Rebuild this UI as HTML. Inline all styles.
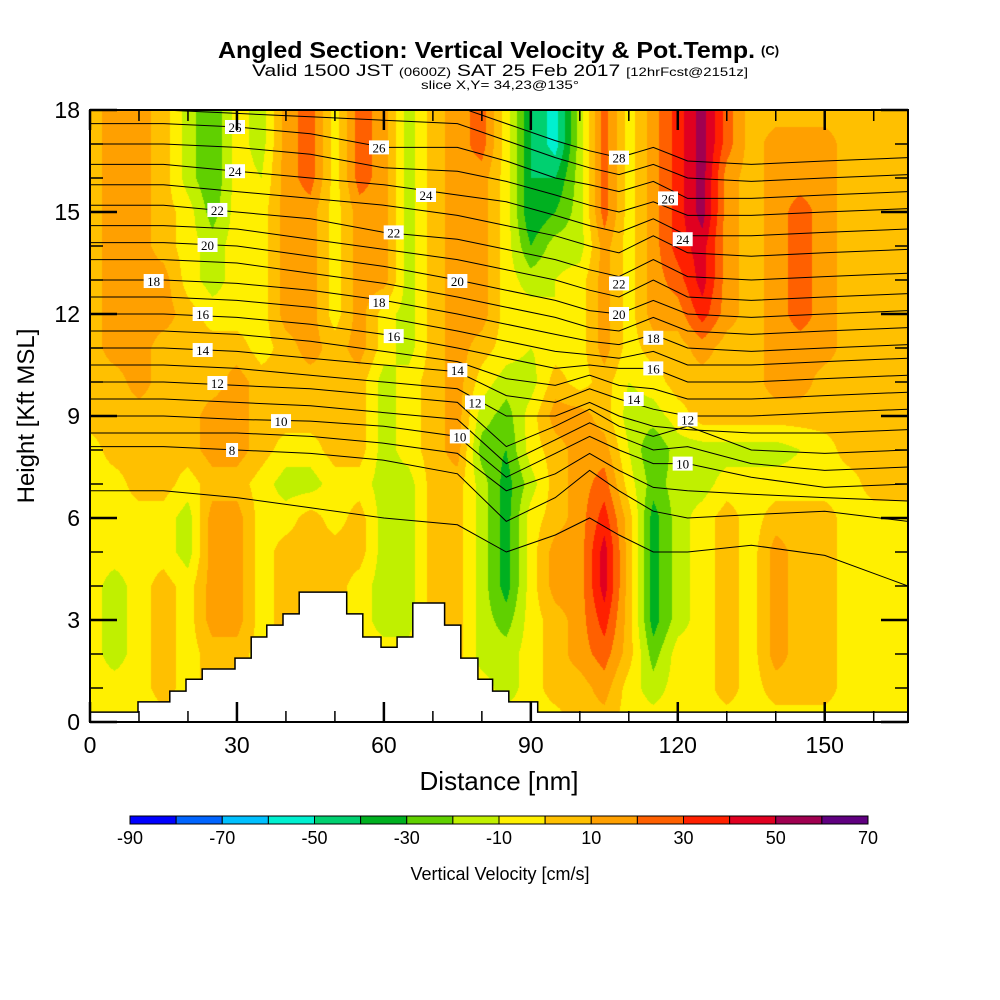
<!DOCTYPE html>
<html><head><meta charset="utf-8">
<style>
html,body{margin:0;padding:0;background:#fff;}
#wrap{position:relative;width:1000px;height:1000px;overflow:hidden;font-family:"Liberation Sans",sans-serif;}
canvas{position:absolute;left:90px;top:110px;}
svg{position:absolute;left:0;top:0;}
</style></head>
<body>
<div id="wrap">
<canvas id="field" width="818" height="612"></canvas>
<svg id="svg" width="1000" height="1000">
  <g>
    <text x="218" y="58" font-size="23" font-weight="bold" textLength="537" lengthAdjust="spacingAndGlyphs">Angled Section: Vertical Velocity &amp; Pot.Temp.</text>
    <text x="761" y="55" font-size="13" font-weight="bold">(C)</text>
    <text x="252" y="76" font-size="17" textLength="496" lengthAdjust="spacingAndGlyphs">Valid 1500 JST <tspan font-size="12">(0600Z)</tspan> SAT 25 Feb 2017 <tspan font-size="12">[12hrFcst@2151z]</tspan></text>
    <text x="421" y="89" font-size="12" textLength="158" lengthAdjust="spacingAndGlyphs">slice X,Y= 34,23@135°</text>
  </g>
  <g id="theta"></g>
  <g id="terrain"></g>
  <g id="labels"></g>
  <g id="axes"></g>
  <g id="cbar"></g>
</svg>
</div>
<script>
// ---- data ----
const distances = [0,5,10,15,20,25,30,35,40,45,50,55,60,65,70,75,80,85,90,95,100,105,110,115,120,125,130,135,140,145,150,155,160,165];
const heights = [18,17,16,15,14,13,12,11,10,9,8,7,6,5,4,3,2,1,0];
// each entry: vertical profile (18 kft -> 0 kft) of vertical velocity [cm/s] at one distance
const vvCols = [
[5,5,5,5,5,5,5,5,5,5,-5,-5,-5,-5,-5,-5,-5,-5,-5],
[15,15,15,15,15,15,15,15,5,5,5,-5,-5,-5,-15,-15,-15,-5,-5],
[15,15,15,15,15,15,15,15,15,5,5,5,-5,-5,-5,-5,-5,-5,-5],
[5,5,5,5,5,15,15,5,5,5,5,5,-5,-5,5,5,5,5,-5],
[-15,-15,-15,-5,-5,-5,5,5,5,5,5,-5,-15,-15,-5,-5,-5,-5,-5],
[-30,-30,-30,-25,-15,-15,-5,5,5,15,15,5,15,15,15,15,5,5,-5],
[-5,-5,-5,-5,-5,-5,-5,5,15,15,15,5,15,15,15,15,5,5,-5],
[-15,-15,-10,-5,-5,-5,-5,-5,5,5,5,-5,-5,-5,-5,-5,-5,-5,-5],
[15,15,15,15,15,15,15,5,5,5,-5,-15,-5,5,5,5,5,-5,-5],
[25,25,25,15,15,15,15,15,5,5,-5,-15,5,5,5,5,5,-5,-5],
[-5,-5,-5,-5,-5,-5,-5,5,5,5,5,-5,-5,5,5,5,-5,-5,-5],
[25,25,25,15,15,15,15,15,5,5,5,-5,5,5,-5,-5,-5,-5,-5],
[15,15,15,15,15,15,-5,-5,-15,-15,-15,-15,-15,-15,-15,-15,-5,-5,-5],
[-15,-15,-15,-15,-15,-15,-15,-15,-5,-5,-5,-15,-15,-15,-15,-15,-5,-5,-5],
[5,5,5,5,5,5,5,5,5,5,5,5,5,5,5,5,5,-5,-5],
[15,15,15,15,15,15,15,15,15,15,15,5,5,5,5,5,5,-5,-5],
[25,25,15,15,15,15,15,5,-5,-15,-25,-15,-15,-15,-15,-15,-15,-5,-5],
[-5,-5,-5,-5,-5,-5,-5,-5,-15,-25,-30,-35,-35,-35,-35,-25,-15,-15,-5],
[-40,-40,-40,-40,-30,-15,-5,-10,-15,-5,-5,-15,-5,-5,-5,-5,-5,-5,-5],
[-55,-55,-40,-30,-15,-10,-10,-5,5,15,5,5,5,15,15,5,5,5,-5],
[-15,-15,-15,-15,-15,-5,-5,-5,-5,15,15,15,15,15,15,15,15,5,5],
[25,25,25,25,15,15,15,15,5,5,15,25,35,45,45,35,25,15,5],
[-5,-5,-5,-5,-5,-5,-5,-5,-10,-15,-10,-5,5,5,5,5,5,-5,-5],
[15,15,15,15,15,15,15,5,-5,-15,-30,-25,-35,-35,-35,-35,-25,-15,-5],
[35,35,35,35,35,25,15,5,5,-5,-15,-15,-15,-15,-15,-15,-5,-5,-5],
[55,55,55,55,45,45,35,15,5,5,-15,-15,-5,-5,-5,-5,-5,-5,-5],
[25,25,15,15,15,15,15,5,5,5,-15,-5,5,5,5,5,5,5,-5],
[5,5,5,5,5,5,5,5,5,5,-15,-5,-5,-5,-5,-5,-5,-5,-5],
[5,15,15,15,15,15,15,15,15,5,-15,-5,5,15,15,15,15,5,-5],
[5,15,15,25,25,25,25,15,15,5,-10,-5,5,5,5,5,5,5,-5],
[5,15,15,15,15,15,15,15,5,5,-5,-5,5,5,5,5,5,5,-5],
[5,5,5,5,5,5,5,5,5,5,5,-5,-5,-5,-5,-5,-5,-5,-5],
[5,5,5,5,5,5,5,5,5,5,5,5,-5,-5,-5,-5,-5,-5,-5],
[5,5,5,5,5,5,5,5,5,5,5,5,-5,-5,-5,-5,-5,-5,-5]
];
const colorLevels = [-90,-80,-70,-60,-50,-40,-30,-20,-10,0,10,20,30,40,50,60,70];
const colorFills = ["#0000ff","#0064ff","#00c0ff","#00f0d0","#00d070","#00b020","#60d000","#c0f000","#fff000","#ffc000","#ffa000","#ff6000","#ff2000","#e00020","#a00050","#600080"];
const colorTickLabels = ["-90","-70","-50","-30","-10","10","30","50","70"];
const xTicks = [0,30,60,90,120,150];
const yTicks = [0,3,6,9,12,15,18];
const thetaCtrlNm = [0,15,30,45,60,75,85,95,102,108,115,122,135,150,167];
const thetaLevels = [7,8,9,10,11,12,13,14,15,16,17,18,19,20,21,22,23,24,25,26,27,28];
const thetaHeights = [
[6.8,6.8,6.6,6.3,6.0,5.8,5.0,5.5,6.0,5.5,5.0,5.0,5.2,4.9,4.0],
[8.1,8.1,8.0,7.9,7.7,7.3,5.9,6.6,7.4,6.8,6.2,6.0,6.1,6.2,5.9],
[8.5,8.5,8.5,8.4,8.2,7.9,6.8,7.3,7.9,7.4,6.9,6.8,6.7,6.6,6.5],
[9.0,9.0,8.9,8.85,8.7,8.4,7.2,7.9,8.4,8.0,7.6,7.6,7.2,6.9,7.0],
[9.5,9.5,9.4,9.3,9.1,8.9,7.6,8.3,8.8,8.4,8.0,8.1,7.6,7.4,7.5],
[10.0,10.0,9.9,9.8,9.6,9.4,8.1,8.7,9.2,8.7,8.4,8.7,8.0,7.9,8.0],
[10.5,10.5,10.4,10.2,10.0,9.8,9.0,9.0,9.4,9.0,8.7,8.6,8.5,8.5,8.6],
[11.0,11.0,10.9,10.7,10.5,10.3,9.6,9.4,9.8,9.5,9.2,9.0,9.0,9.1,9.2],
[11.5,11.5,11.4,11.2,10.9,10.6,10.1,9.9,10.2,9.9,9.8,9.5,9.5,9.6,9.7],
[12.0,12.0,11.9,11.7,11.4,11.0,10.7,10.4,10.5,10.4,10.4,10.0,10.0,10.1,10.2],
[12.5,12.5,12.4,12.2,11.9,11.5,11.2,10.9,10.8,10.7,10.9,10.5,10.5,10.6,10.7],
[13.0,13.0,12.9,12.7,12.4,12.0,11.7,11.4,11.2,11.1,11.4,11.0,10.9,11.0,11.1],
[13.6,13.6,13.5,13.2,12.9,12.5,12.2,11.9,11.6,11.5,11.9,11.5,11.4,11.5,11.6],
[14.1,14.1,14.0,13.7,13.4,13.0,12.7,12.4,12.1,12.0,12.4,12.0,11.9,12.0,12.1],
[14.6,14.6,14.5,14.2,13.9,13.6,13.3,13.0,12.7,12.5,13.0,12.5,12.4,12.5,12.6],
[15.2,15.2,15.0,14.8,14.4,14.2,13.9,13.6,13.3,13.1,13.6,13.1,13.0,13.1,13.2],
[15.8,15.8,15.6,15.4,15.2,14.9,14.6,14.3,14.0,13.8,14.3,13.8,13.7,13.8,13.9],
[16.4,16.4,16.2,16.0,15.8,15.5,15.3,14.9,14.6,14.4,14.8,14.3,14.3,14.4,14.5],
[17.0,17.0,16.9,16.7,16.3,16.2,15.9,15.5,15.2,15.0,15.3,14.9,14.9,15.0,15.1],
[17.6,17.6,17.5,17.3,16.9,16.9,16.5,16.0,15.8,15.6,15.9,15.4,15.4,15.5,15.6],
[18.1,18.0,17.9,17.8,17.7,17.6,17.1,16.6,16.3,16.1,16.4,16.0,15.9,16.0,16.1],
[18.6,18.5,18.4,18.3,18.2,18.1,17.6,17.1,16.8,16.6,16.9,16.5,16.4,16.5,16.6]
];
const labelText = ["26","26","24","24","24","22","22","22","20","20","20","18","18","18","16","16","16","14","14","14","12","12","12","10","10","10","8","28","26"];
const labelNm   = [29.6,59,29.6,68.6,121,26,62,108,24,75,108,13,59,115,23,62,115,23,75,111,26,78.6,122,39,75.5,121,29,108,118];
const labelKft  = [17.5,16.9,16.2,15.5,14.2,15.06,14.4,12.9,14.03,12.97,12.0,12.97,12.35,11.3,12.0,11.35,10.4,10.94,10.35,9.5,9.97,9.4,8.9,8.85,8.4,7.6,8.0,16.6,15.4];
const terrainNm  = [0,9.8,9.8,16.3,16.3,19.6,19.6,22.9,22.9,29.6,29.6,32.9,32.9,36.1,36.1,39.4,39.4,42.7,42.7,52.4,52.4,55.7,55.7,59.4,59.4,62.7,62.7,65.9,65.9,72.4,72.4,75.7,75.7,79.2,79.2,82.2,82.2,85.5,85.5,91.4,91.4,167];
const terrainKft = [0.29,0.29,0.59,0.59,0.91,0.91,1.26,1.26,1.56,1.56,1.88,1.88,2.5,2.5,2.85,2.85,3.18,3.18,3.82,3.82,3.18,3.18,2.5,2.5,2.2,2.2,2.5,2.5,3.5,3.5,2.85,2.85,1.88,1.88,1.26,1.26,0.91,0.91,0.59,0.59,0.29,0.29];

// ---- axis functions ----
const PX0=90, PX1=908, PY0=110, PY1=722, XMAX=167, YMAX=18;
const xs = nm => PX0 + nm*(PX1-PX0)/XMAX;
const ys = k => PY1 - k*(PY1-PY0)/YMAX;
const NS='http://www.w3.org/2000/svg';
function mk(tag, attrs, parent){const e=document.createElementNS(NS,tag);for(const k in attrs)e.setAttribute(k,attrs[k]);parent.appendChild(e);return e;}

// ---- field ----
(function(){
  const cv=document.getElementById('field'),ctx=cv.getContext('2d');
  const W=cv.width,H=cv.height,img=ctx.createImageData(W,H);
  const rgb=colorFills.map(c=>[parseInt(c.substr(1,2),16),parseInt(c.substr(3,2),16),parseInt(c.substr(5,2),16)]);
  const dx=distances[1]-distances[0], nC=distances.length, nR=heights.length;
  for(let py=0;py<H;py++){
    const k=YMAX-(py+0.5)*YMAX/H; let r=(heights[0]-k); r=Math.max(0,Math.min(nR-1.0001,r));
    const r0=Math.floor(r), fr=r-r0;
    for(let px=0;px<W;px++){
      let c=((px+0.5)*XMAX/W)/dx; c=Math.max(0,Math.min(nC-1.0001,c));
      const c0=Math.floor(c), fc=c-c0;
      const v=(vvCols[c0][r0]*(1-fc)+vvCols[c0+1][r0]*fc)*(1-fr)+(vvCols[c0][r0+1]*(1-fc)+vvCols[c0+1][r0+1]*fc)*fr;
      let i=Math.floor((v-colorLevels[0])/10);i=Math.max(0,Math.min(rgb.length-1,i));
      const o=(py*W+px)*4; img.data[o]=rgb[i][0];img.data[o+1]=rgb[i][1];img.data[o+2]=rgb[i][2];img.data[o+3]=255;
    }
  }
  ctx.putImageData(img,0,0);
})();

// ---- theta contours ----
const svg=document.getElementById('svg');
const clip=mk('clipPath',{id:'pc'},mk('defs',{},svg));
mk('rect',{x:PX0,y:PY0,width:PX1-PX0,height:PY1-PY0},clip);
const gT=document.getElementById('theta'); gT.setAttribute('clip-path','url(#pc)');
thetaLevels.forEach((lv,i)=>{
  const pts=thetaCtrlNm.map((n,j)=>xs(n).toFixed(1)+','+ys(thetaHeights[i][j]).toFixed(1)).join(' ');
  const p=mk('polyline',{points:pts,fill:'none',stroke:'#000','stroke-width':1},gT);
  
  
});

// ---- terrain ----
const gTer=document.getElementById('terrain');
let tp='M'+xs(0)+','+ys(0);
terrainNm.forEach((n,i)=>{tp+=' L'+xs(n).toFixed(1)+','+ys(terrainKft[i]).toFixed(1);});
tp+=' L'+xs(XMAX)+','+ys(0)+' Z';
const ter=mk('path',{d:tp,fill:'#fff',stroke:'none'},gTer);


const terLine=mk('polyline',{points:terrainNm.map((n,i)=>xs(n).toFixed(1)+','+ys(terrainKft[i]).toFixed(1)).join(' '),fill:'none',stroke:'#000','stroke-width':1.5},gTer);



// ---- contour labels ----
const gL=document.getElementById('labels');
labelText.forEach((t,i)=>{
  const x=xs(labelNm[i]),y=ys(labelKft[i]);const w=t.length*8+4;
  const g=mk('g',{},gL);
  
  
  mk('rect',{x:x-w/2,y:y-7,width:w,height:14,fill:'#fff'},g);
  const tx=mk('text',{x:x,y:y+5,'font-size':13,'text-anchor':'middle','font-family':'Liberation Serif, serif'},g);
  tx.textContent=t;
});

// ---- axes ----
const gA=document.getElementById('axes');
const frame=mk('rect',{x:PX0,y:PY0,width:PX1-PX0,height:PY1-PY0,fill:'none',stroke:'#000','stroke-width':2},gA);


for(let k=0;k<=18;k++){
  const y=ys(k),L=(k%3===0)?27:13,w=(k%3===0)?2.5:1.5;
  mk('line',{x1:PX0,y1:y,x2:PX0+L,y2:y,stroke:'#000','stroke-width':w},gA);
  mk('line',{x1:PX1,y1:y,x2:PX1-L,y2:y,stroke:'#000','stroke-width':w},gA);
}
for(let n=0;n<=160;n+=10){
  const x=xs(n),L=(n%30===0)?20:11,w=(n%30===0)?2.5:1.5;
  mk('line',{x1:x,y1:PY0,x2:x,y2:PY0+L,stroke:'#000','stroke-width':w},gA);
  mk('line',{x1:x,y1:PY1,x2:x,y2:PY1-L,stroke:'#000','stroke-width':w},gA);
}
yTicks.forEach(k=>{
  const t=mk('text',{x:80,y:ys(k)+8,'font-size':23,'text-anchor':'end'},gA);
  
  
  t.textContent=k;
});
xTicks.forEach(n=>{
  const t=mk('text',{x:xs(n),y:753,'font-size':23,'text-anchor':'middle'},gA);
  
  
  t.textContent=n;
});
const xt=mk('text',{x:499,y:790,'font-size':26,'text-anchor':'middle'},gA);


xt.textContent='Distance [nm]';
const yt=mk('text',{x:34,y:416,'font-size':24,'text-anchor':'middle',transform:'rotate(-90 34 416)'},gA);


yt.textContent='Height [Kft MSL]';

// ---- colorbar ----
const gC=document.getElementById('cbar');
const CB0=130,CB1=868,segW=(CB1-CB0)/colorFills.length;
colorFills.forEach((c,i)=>{
  const r=mk('rect',{x:CB0+i*segW,y:816,width:segW,height:8,fill:c,stroke:'#000','stroke-width':1},gC);
  
  
});
colorTickLabels.forEach((t,i)=>{
  const tx=mk('text',{x:CB0+i*2*segW,y:844,'font-size':18,'text-anchor':'middle'},gC);
  
  
  tx.textContent=t;
});
const ct=mk('text',{x:500,y:880,'font-size':18,'text-anchor':'middle'},gC);


ct.textContent='Vertical Velocity [cm/s]';
</script>
</body></html>
